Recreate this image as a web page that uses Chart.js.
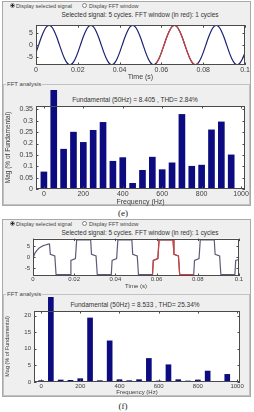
<!DOCTYPE html>
<html>
<head>
<meta charset="utf-8">
<script src="https://cdn.jsdelivr.net/npm/chart.js@4.4.1/dist/chart.umd.min.js"></script>
<style>
  body { margin: 0; width: 254px; height: 412px; background: #fff; position: relative; overflow: hidden;
         font-family: 'Liberation Sans', Arial, sans-serif; color: #333; }
  .panel { position: absolute; box-sizing: border-box; border: 1px solid #a9a9a9; background: #efefef; }
  .group { position: absolute; box-sizing: border-box; border: 1px solid #c2c2c2; }
  .glabel { position: absolute; font-size: 6px; line-height: 7px; background: #efefef; padding: 0 1px; color: #444; white-space: nowrap; }
  .radio { position: absolute; box-sizing: border-box; width: 5px; height: 5px; border: 1px solid #808080; border-radius: 50%; background: #fff; }
  .radio.on { background: radial-gradient(circle, #222 0 1.2px, #fff 1.3px); }
  .small { position: absolute; font-size: 5.5px; line-height: 6px; white-space: nowrap; color: #444; }
  .ttl { position: absolute; text-align: center; white-space: nowrap; color: #333; }
  canvas { position: absolute; left: 0; }
  .cap { position: absolute; left: 103px; width: 40px; text-align: center; font-family: 'Liberation Serif', serif; font-size: 9px; line-height: 10px; color: #222; }
</style>
</head>
<body>

<!-- panel (e) -->
<div class="panel" style="left:2px; top:1px; width:249px; height:205px;"></div>
<div class="radio on" style="left:10px; top:3px;"></div>
<div class="small" style="left:16px; top:2.5px;">Display selected signal</div>
<div class="radio" style="left:82px; top:3px;"></div>
<div class="small" style="left:89px; top:2.5px;">Display FFT window</div>
<div class="ttl" style="left:30px; width:220px; top:11px; font-size:6.4px; line-height:8px;">Selected signal: 5 cycles. FFT window (in red): 1 cycles</div>
<div class="group" style="left:3px; top:84px; width:247px; height:121px;"></div>
<div class="glabel" style="left:6px; top:81px;">FFT analysis</div>
<div class="ttl" style="left:35px; width:200px; top:96px; font-size:6.5px; line-height:8px;">Fundamental (50Hz) = 8.405 , THD= 2.84%</div>
<canvas id="sigE" width="254" height="66" style="top:18px;"></canvas>
<canvas id="fftE" width="254" height="118" style="top:88px;"></canvas>
<div class="cap" style="top:208px;">(e)</div>

<!-- panel (f) -->
<div class="panel" style="left:2px; top:219px; width:249px; height:178px;"></div>
<div class="radio on" style="left:10px; top:221px;"></div>
<div class="small" style="left:16px; top:220.5px;">Display selected signal</div>
<div class="radio" style="left:82px; top:221px;"></div>
<div class="small" style="left:89px; top:220.5px;">Display FFT window</div>
<div class="ttl" style="left:30px; width:220px; top:228.5px; font-size:6.4px; line-height:8px;">Selected signal: 5 cycles. FFT window (in red): 1 cycles</div>
<div class="group" style="left:3px; top:294px; width:247px; height:102px;"></div>
<div class="glabel" style="left:6px; top:291px;">FFT analysis</div>
<div class="ttl" style="left:35px; width:200px; top:301px; font-size:6.5px; line-height:8px;">Fundamental (50Hz) = 8.533 , THD= 25.34%</div>
<canvas id="sigF" width="254" height="62" style="top:232px;"></canvas>
<canvas id="fftF" width="254" height="103" style="top:295px;"></canvas>
<div class="cap" style="top:401px;">(f)</div>

<script>
// axis ticks
const timeTicks = [0, 0.02, 0.04, 0.06, 0.08, 0.1];
const timeTickLabels = ['0', '0.02', '0.04', '0.06', '0.08', '0.1'];
const signalTicks = [-5, 0, 5];
const freqTicks = [0, 200, 400, 600, 800, 1000];
const magTicksE = [0, 0.05, 0.1, 0.15, 0.2, 0.25, 0.3, 0.35];
const magTickLabelsE = ['0', '0.05', '0.1', '0.15', '0.2', '0.25', '0.3', '0.35'];
const magTicksF = [0, 5, 10, 15, 20];

// (e) selected signal, sampled every 1.25 ms
const sigTimesE = [
  0, 0.00125, 0.0025, 0.00375, 0.005, 0.00625, 0.0075, 0.00875,
  0.01, 0.01125, 0.0125, 0.01375, 0.015, 0.01625, 0.0175, 0.01875,
  0.02, 0.02125, 0.0225, 0.02375, 0.025, 0.02625, 0.0275, 0.02875,
  0.03, 0.03125, 0.0325, 0.03375, 0.035, 0.03625, 0.0375, 0.03875,
  0.04, 0.04125, 0.0425, 0.04375, 0.045, 0.04625, 0.0475, 0.04875,
  0.05, 0.05125, 0.0525, 0.05375, 0.055, 0.05625, 0.0575, 0.05875,
  0.06, 0.06125, 0.0625, 0.06375, 0.065, 0.06625, 0.0675, 0.06875,
  0.07, 0.07125, 0.0725, 0.07375, 0.075, 0.07625, 0.0775, 0.07875,
  0.08, 0.08125, 0.0825, 0.08375, 0.085, 0.08625, 0.0875, 0.08875,
  0.09, 0.09125, 0.0925, 0.09375, 0.095, 0.09625, 0.0975, 0.09875,
  0.1
];
const sigValsE = [
  -3.21, 0, 3.21, 5.94, 7.76, 8.4, 7.76, 5.94,
  3.21, 0, -3.21, -5.94, -7.76, -8.4, -7.76, -5.94,
  -3.21, 0, 3.21, 5.94, 7.76, 8.4, 7.76, 5.94,
  3.21, 0, -3.21, -5.94, -7.76, -8.4, -7.76, -5.94,
  -3.21, 0, 3.21, 5.94, 7.76, 8.4, 7.76, 5.94,
  3.21, 0, -3.21, -5.94, -7.76, -8.4, -7.76, -5.94,
  -3.21, 0, 3.21, 5.94, 7.76, 8.4, 7.76, 5.94,
  3.21, 0, -3.21, -5.94, -7.76, -8.4, -7.76, -5.94,
  -3.21, 0, 3.21, 5.94, 7.76, 8.4, 7.76, 5.94,
  3.21, 0, -3.21, -5.94, -7.76, -8.4, -7.76, -5.94,
  -3.21
];
const windowStartE = 46, windowEndE = 62;

// (f) selected signal, corner points of the stepped wave
const sigTimesF = [
  0, 0.001, 0.002, 0.003, 0.004, 0.005, 0.006, 0.007, 0.008,
  0.0084, 0.0106, 0.0112,
  0.018, 0.0184, 0.0206, 0.0212,
  0.028, 0.0284, 0.0306, 0.0312,
  0.038, 0.0384, 0.0406, 0.0412,
  0.048, 0.0484, 0.0506, 0.0512,
  0.058, 0.0584, 0.0606, 0.0612,
  0.068, 0.0684, 0.0706, 0.0712,
  0.078, 0.0784, 0.0806, 0.0812,
  0.088, 0.0884, 0.0906, 0.0912,
  0.098, 0.0984, 0.1
];
const sigValsF = [
  -0.4, 2.0, 3.3, 4.2, 4.8, 5.3, 5.6, 5.9, 6.1,
  1.4, 0.6, -7.9,
  -7.9, -1.4, -0.6, 7.9,
  7.9, 1.4, 0.6, -7.9,
  -7.9, -1.4, -0.6, 7.9,
  7.9, 1.4, 0.6, -7.9,
  -7.9, -1.4, -0.6, 7.9,
  7.9, 1.4, 0.6, -7.9,
  -7.9, -1.4, -0.6, 7.9,
  7.9, 1.4, 0.6, -7.9,
  -7.9, -1.4, -1.0
];
const windowStartF = 28, windowEndF = 36;

// harmonic spectra (% of fundamental)
const harmonicFreqs = [0, 50, 100, 150, 200, 250, 300, 350, 400, 450, 500, 550, 600, 650, 700, 750, 800, 850, 900, 950];
const magE = [0.075, 100, 0.175, 0.25, 0.205, 0.258, 0.293, 0.122, 0.138, 0.025, 0.082, 0.14, 0.085, 0.115, 0.328, 0.1, 0.105, 0.26, 0.295, 0.15];
const magF = [0.4, 100, 0.6, 0.5, 1.0, 19.3, 0.4, 12.4, 0.7, 0.4, 0.7, 7.1, 0.3, 5.2, 0.7, 0.3, 0.6, 3.3, 0.2, 2.3];

Chart.defaults.font.family = "'Liberation Sans', Arial, sans-serif";
Chart.defaults.color = '#3c3c3c';
Chart.defaults.animation = false;
Chart.defaults.plugins.legend.display = false;
Chart.defaults.plugins.tooltip.enabled = false;

function pts(xs, ys) {
  return xs.map((x, i) => ({x: x, y: ys[i]}));
}

// white plot area, box and inward ticks like the matlab axes
const matlabAxes = {
  id: 'matlabAxes',
  beforeDraw(chart) {
    const {ctx, chartArea: a} = chart;
    ctx.save();
    ctx.fillStyle = '#fff';
    ctx.fillRect(a.left, a.top, a.width, a.height);
    ctx.restore();
  },
  afterDraw(chart) {
    const {ctx, chartArea: a, scales} = chart;
    const x = scales.x, y = scales.y;
    ctx.save();
    ctx.strokeStyle = '#4a4a4a';
    ctx.lineWidth = 1;
    ctx.strokeRect(Math.round(a.left) + 0.5, Math.round(a.top) + 0.5, Math.round(a.width) - 1, Math.round(a.height) - 1);
    ctx.beginPath();
    x.ticks.forEach(t => {
      const p = Math.round(x.getPixelForValue(t.value)) + 0.5;
      ctx.moveTo(p, a.bottom); ctx.lineTo(p, a.bottom - 2.5);
      ctx.moveTo(p, a.top); ctx.lineTo(p, a.top + 2.5);
    });
    y.ticks.forEach(t => {
      const p = Math.round(y.getPixelForValue(t.value)) + 0.5;
      ctx.moveTo(a.left, p); ctx.lineTo(a.left + 2.5, p);
      ctx.moveTo(a.right, p); ctx.lineTo(a.right - 2.5, p);
    });
    ctx.stroke();
    ctx.restore();
  }
};

function xAxis(min, max, ticks, labels, title, size, boxH, pad) {
  return {
    type: 'linear', min: min, max: max, offset: false,
    grid: {display: false, drawTicks: false}, border: {display: false},
    afterBuildTicks: s => { s.ticks = ticks.map(v => ({value: v})); },
    afterFit: s => { s.height = boxH; },
    ticks: {font: {size: size}, padding: pad, maxRotation: 0, autoSkip: false,
            callback: (v, i) => labels[i]},
    title: {display: true, text: title, font: {size: size}, padding: 0}
  };
}

function yAxis(min, max, ticks, labels, title, size, boxW) {
  return {
    type: 'linear', min: min, max: max,
    grid: {display: false, drawTicks: false}, border: {display: false},
    afterBuildTicks: s => { s.ticks = ticks.map(v => ({value: v})); },
    afterFit: s => { s.width = boxW; },
    ticks: {font: {size: size}, padding: 3, autoSkip: false,
            callback: (v, i) => labels[i]},
    title: {display: !!title, text: title || '', font: {size: size - 0.5}, padding: {top: 4, bottom: 0}}
  };
}

function signalChart(id, times, vals, w0, w1, color, tension, pad, yBox, xBox, size) {
  const all = pts(times, vals);
  new Chart(document.getElementById(id), {
    type: 'line',
    data: {
      datasets: [
        {data: all.slice(w0, w1 + 1), borderColor: '#d0403c', borderWidth: 1.2, pointRadius: 0, tension: tension},
        {data: all, borderColor: color, borderWidth: 1.2, pointRadius: 0, tension: tension}
      ]
    },
    options: {
      responsive: false,
      layout: {padding: pad},
      scales: {
        x: xAxis(0, 0.1, timeTicks, timeTickLabels, 'Time (s)', size, xBox, size === 7 ? 1 : 0),
        y: yAxis(-8.5, 8.5, signalTicks, signalTicks.map(String), '', size, yBox)
      }
    },
    plugins: [matlabAxes]
  });
}

function spectrumChart(id, mags, xmin, xmax, ymax, yTicks, yLabels, thick, clipTop, pad, yBox, xBox, size) {
  new Chart(document.getElementById(id), {
    type: 'bar',
    data: {
      datasets: [{
        data: pts(harmonicFreqs, mags),
        backgroundColor: '#0c0c80',
        barThickness: thick,
        clip: {left: 0, top: clipTop, right: 0, bottom: 0}
      }]
    },
    options: {
      responsive: false,
      layout: {padding: pad},
      scales: {
        x: xAxis(xmin, xmax, freqTicks, freqTicks.map(String), 'Frequency (Hz)', size, xBox, 1),
        y: yAxis(0, ymax, yTicks, yLabels, 'Mag (% of Fundamental)', size, yBox)
      }
    },
    plugins: [matlabAxes]
  });
}

signalChart('sigE', sigTimesE, sigValsE, windowStartE, windowEndE, '#1c2270', 0.35,
  {left: 0, top: 3, right: 9, bottom: 3}, 36, 16, 7);
spectrumChart('fftE', magE, -40, 1020, 0.365, magTicksE, magTickLabelsE, 6, 16,
  {left: 0, top: 18, right: 9, bottom: 0}, 36, 17, 7);
signalChart('sigF', sigTimesF, sigValsF, windowStartF, windowEndF, '#5c5c78', 0,
  {left: 0, top: 6, right: 15, bottom: 4}, 33, 14, 6);
spectrumChart('fftF', magF, -36, 1015, 21.4, magTicksF, magTicksF.map(String), 5, 14,
  {left: 0, top: 16, right: 14, bottom: 2}, 34, 14, 6);
</script>
</body>
</html>
